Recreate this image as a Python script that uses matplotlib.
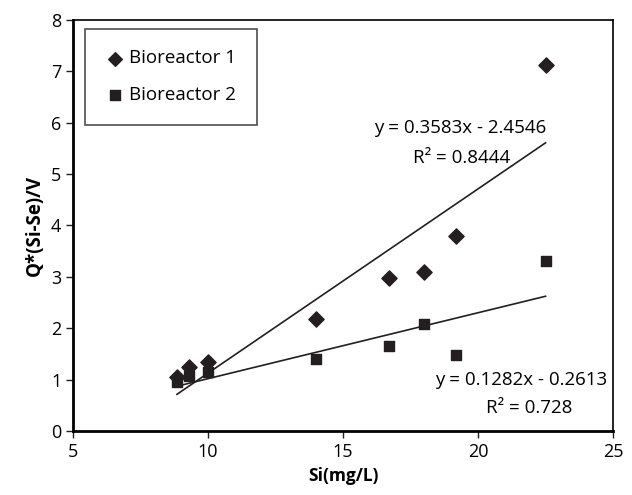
import numpy as np
import matplotlib
matplotlib.use("Agg")
import matplotlib.pyplot as plt

plt.rcParams['font.family'] = ['Open Sans', 'DejaVu Sans']

# Bioreactor 1 and 2 data
si = [8.85, 9.3, 10.0, 14.0, 16.7, 18.0, 19.2, 22.5]
bio1 = [1.05, 1.25, 1.35, 2.18, 2.97, 3.09, 3.80, 7.12]
bio2 = [0.95, 1.08, 1.15, 1.40, 1.65, 2.08, 1.48, 3.31]

# trendline coefficients as printed on the chart
fit1 = (0.3583, -2.4546)
fit2 = (0.1282, -0.2613)
eq1 = ["y = 0.3583x - 2.4546", "R² = 0.8444"]
eq2 = ["y = 0.1282x - 0.2613", "R² = 0.728"]

fig = plt.figure(figsize=(6.32, 4.95), dpi=100)
ax = fig.add_axes([0.1155, 0.129, 0.8545, 0.831])

ax.scatter(si, bio1, marker='D', s=60, color='#231f20', label='Bioreactor 1', zorder=3)
ax.scatter(si, bio2, marker='s', s=60, color='#231f20', label='Bioreactor 2', zorder=3)

xs = np.array([min(si), max(si)])
ax.plot(xs, fit1[0] * xs + fit1[1], color='#231f20', lw=1.2)
ax.plot(xs, fit2[0] * xs + fit2[1], color='#231f20', lw=1.2)

ax.text(19.35, 5.9, eq1[0], ha='center', va='center', fontsize=13.5)
ax.text(19.4, 5.32, eq1[1], ha='center', va='center', fontsize=13.5)
ax.text(21.6, 0.99, eq2[0], ha='center', va='center', fontsize=13.5)
ax.text(21.9, 0.45, eq2[1], ha='center', va='center', fontsize=13.5)

ax.set_xlim(5, 25)
ax.set_ylim(0, 8)
ax.set_xticks(range(5, 26, 5))
ax.set_yticks(range(0, 9))
ax.tick_params(labelsize=13, direction='out', length=5, width=1, color='#231f20')
ax.set_xlabel('Si(mg/L)', fontsize=12.5, fontweight='bold')
ax.set_ylabel('Q*(Si-Se)/V', fontsize=13.5, fontweight='bold')

ax.spines['left'].set_linewidth(2)
ax.spines['bottom'].set_linewidth(2)
ax.spines['top'].set_linewidth(1.2)
ax.spines['right'].set_linewidth(1.2)

leg = ax.legend(loc='upper left', bbox_to_anchor=(0.022, 0.978), fontsize=13.5,
                frameon=True, fancybox=False, edgecolor='#231f20', markerscale=0.9,
                handletextpad=0.25, handlelength=1.0, borderpad=1.1, borderaxespad=0,
                labelspacing=1.0)
leg.get_frame().set_linewidth(1.2)

fig.savefig('out.png', dpi=100)
